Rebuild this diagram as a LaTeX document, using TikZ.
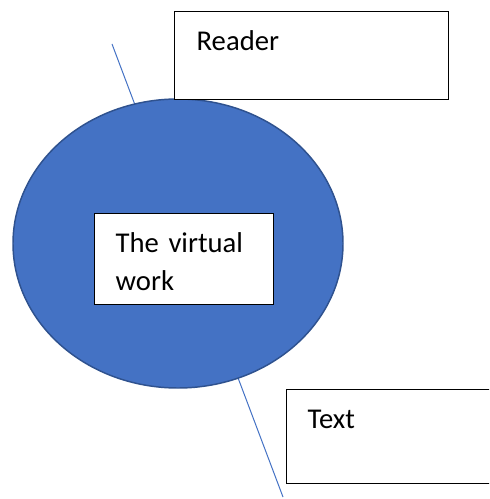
\documentclass[tikz,border=0pt]{standalone}
\usepackage{fontspec}
\setmainfont{Carlito}
\usepackage{tikz}
\usetikzlibrary{
  shapes.geometric,
  positioning,
  calc
}
\definecolor{vwBlue}{HTML}{4472C4}
\definecolor{vwEdge}{HTML}{2F528F}
\tikzset{
  vwbox/.style={
    draw=black, line width=1pt, fill=white, rectangle, anchor=north west,
    inner ysep=0pt, align=left, font=\fontsize{21.5}{28.5}\selectfont
  },
  vwworld/.style={
    ellipse, draw=vwEdge, line width=1.1pt, fill=vwBlue, inner sep=0pt,
    minimum width=247.5pt, minimum height=216.75pt
  },
  vwline/.style={vwBlue, line width=0.75pt}
}

\begin{document}
\begin{tikzpicture}[x=0.75pt, y=-0.75pt]
  \useasboundingbox (0,0) rectangle (489,499);
  \clip (0,0) rectangle (489,499);
  % the thin line runs behind the ellipse
  \coordinate (lineA) at (112,44);
  \coordinate (lineB) at (283,497);
  \draw[vwline] (lineA) -- (lineB);
  \node[vwworld] (world) at (178,243.5) {};
  \node[vwbox, inner xsep=15.75pt, text width=102.75pt,
        text height=29.25pt, text depth=39pt] (work) at (94,213) {The virtual\\work};
  \node[vwbox, inner xsep=16.5pt, text width=172.5pt,
        text height=29.25pt, text depth=36.75pt] (reader) at (174,11) {Reader};
  % this box runs off the right edge
  \node[vwbox, inner xsep=15.75pt, text width=125.25pt,
        text height=29.25pt, text depth=41.25pt] (text) at (286,389) {Text};
\end{tikzpicture}
\end{document}
